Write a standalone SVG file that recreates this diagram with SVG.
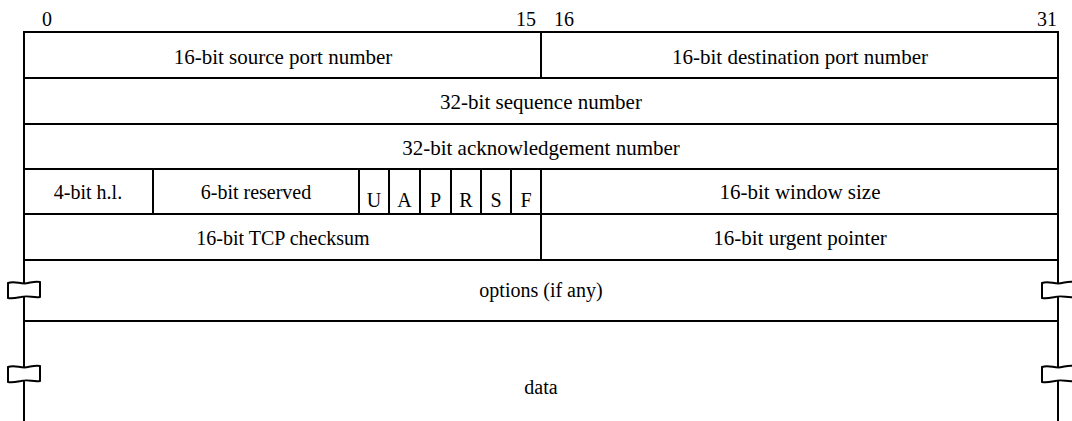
<svg xmlns="http://www.w3.org/2000/svg" width="1072" height="421" viewBox="0 0 1072 421">
  <style>
    text { font-family: 'Liberation Serif', 'Times New Roman', Times, serif; font-size: 20px; fill: #000; }
    .c { text-anchor: middle; }
    .lg { font-size: 21px; }
    .ln { stroke: #000; stroke-width: 2; fill: none; }
    .brk { stroke: #000; stroke-width: 2; fill: #fff; stroke-linejoin: round; }
  </style>
  <defs>
    <!-- break mark drawn on a vertical border, centred at (0,0) -->
    <path id="break" class="brk" d="M-16,-7 C-9,-10 -3,-5 4,-7 C9,-8 12,-9 16,-8 L16,7 C9,8 4,5 -3,7 C-8,8 -12,9 -16,8 Z"/>
  </defs>

  <!-- bit positions -->
  <g id="bit-labels">
    <text x="47" y="26" class="c">0</text>
    <text x="536" y="26" text-anchor="end">15</text>
    <text x="554" y="26">16</text>
    <text x="1057" y="26" text-anchor="end">31</text>
  </g>

  <!-- header grid -->
  <g id="grid">
    <line class="ln" x1="24" y1="32" x2="1058" y2="32"/>
    <line class="ln" x1="24" y1="78" x2="1058" y2="78"/>
    <line class="ln" x1="24" y1="124" x2="1058" y2="124"/>
    <line class="ln" x1="24" y1="169" x2="1058" y2="169"/>
    <line class="ln" x1="24" y1="214" x2="1058" y2="214"/>
    <line class="ln" x1="24" y1="260" x2="1058" y2="260"/>
    <line class="ln" x1="24" y1="321" x2="1058" y2="321"/>
    <line class="ln" x1="24" y1="31" x2="24" y2="421"/>
    <line class="ln" x1="1058" y1="31" x2="1058" y2="421"/>
    <line class="ln" x1="541" y1="32" x2="541" y2="78"/>
    <line class="ln" x1="541" y1="169" x2="541" y2="260"/>
    <line class="ln" x1="153" y1="169" x2="153" y2="214"/>
    <line class="ln" x1="359" y1="169" x2="359" y2="214"/>
    <line class="ln" x1="389" y1="169" x2="389" y2="214"/>
    <line class="ln" x1="420" y1="169" x2="420" y2="214"/>
    <line class="ln" x1="451" y1="169" x2="451" y2="214"/>
    <line class="ln" x1="481" y1="169" x2="481" y2="214"/>
    <line class="ln" x1="511" y1="169" x2="511" y2="214"/>
  </g>

  <g id="source-port"><text x="283" y="64" class="c lg">16-bit source port number</text></g>
  <g id="dest-port"><text x="800" y="64" class="c lg">16-bit destination port number</text></g>
  <g id="sequence"><text x="541" y="109" class="c lg">32-bit sequence number</text></g>
  <g id="ack"><text x="541" y="155" class="c lg">32-bit acknowledgement number</text></g>
  <g id="header-length"><text x="88" y="199" class="c">4-bit h.l.</text></g>
  <g id="reserved"><text x="256" y="199" class="c">6-bit reserved</text></g>
  <g id="flags">
    <text x="374" y="207" class="c">U</text>
    <text x="404.5" y="207" class="c">A</text>
    <text x="435.5" y="207" class="c">P</text>
    <text x="466" y="207" class="c">R</text>
    <text x="496" y="207" class="c">S</text>
    <text x="526" y="207" class="c">F</text>
  </g>
  <g id="window"><text x="800" y="199" class="c lg">16-bit window size</text></g>
  <g id="checksum"><text x="283" y="245" class="c">16-bit TCP checksum</text></g>
  <g id="urgent"><text x="800" y="245" class="c lg">16-bit urgent pointer</text></g>
  <g id="options"><text x="541" y="297" class="c">options (if any)</text></g>
  <g id="data"><text x="541" y="394" class="c">data</text></g>

  <!-- variable-length break marks -->
  <g id="breaks">
    <use href="#break" x="24" y="290"/>
    <use href="#break" x="24" y="374"/>
    <use href="#break" x="1058" y="290"/>
    <use href="#break" x="1058" y="374"/>
  </g>
</svg>
